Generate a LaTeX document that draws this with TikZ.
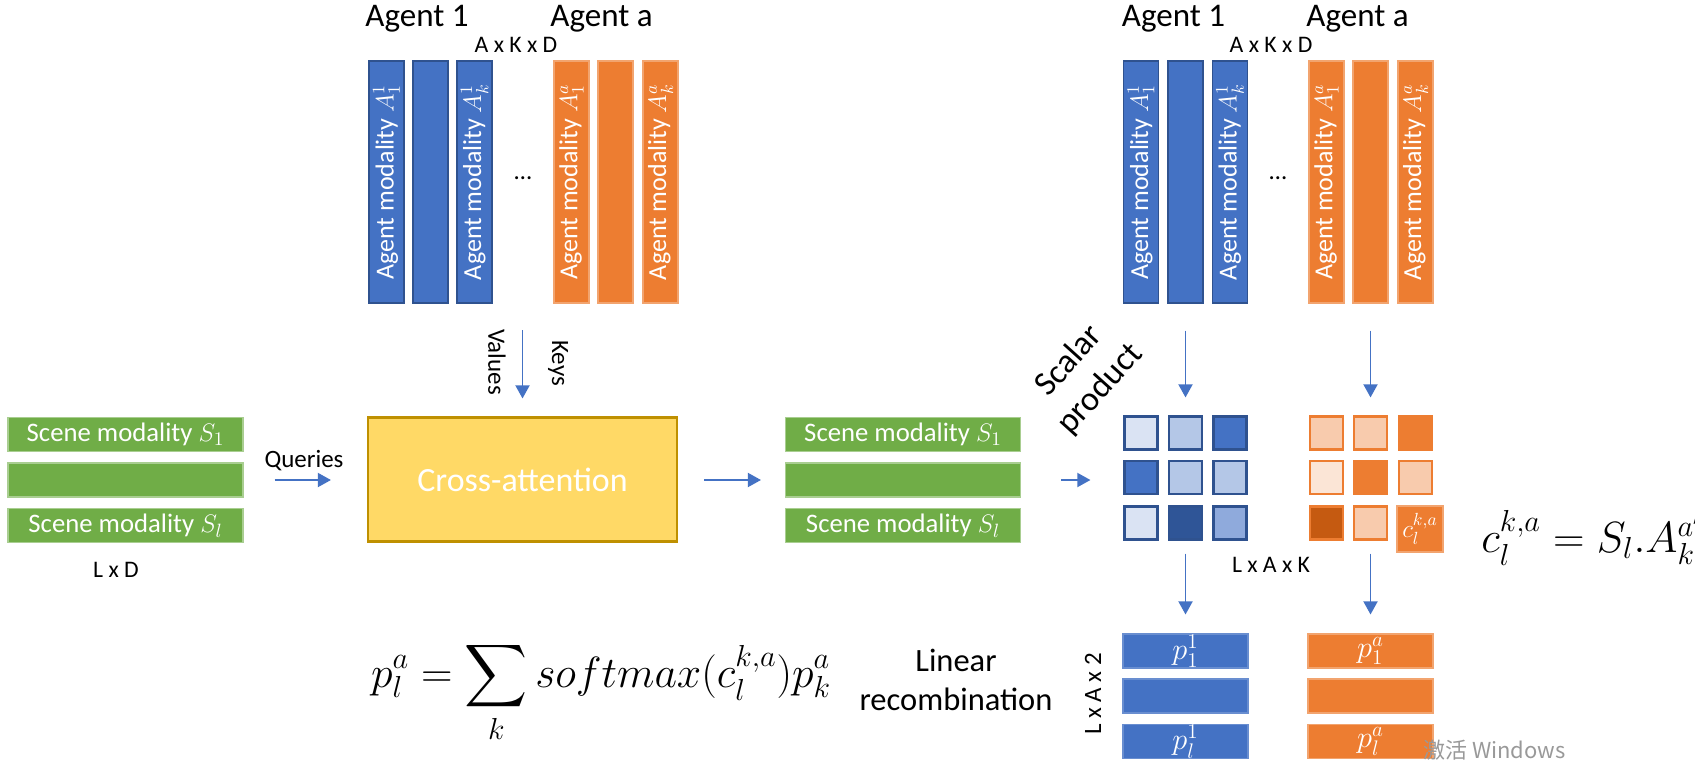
\documentclass[tikz,border=0pt]{standalone}
\usepackage{exscale}
\usepackage{fontspec}
\setmainfont{Carlito}
\newfontfamily\cjk{Noto Sans CJK SC}
\usetikzlibrary{arrows.meta}

\definecolor{myBlue}{HTML}{4472C4}
\definecolor{myBlueLine}{HTML}{2F528F}
\definecolor{myBlueDark}{HTML}{2F5597}
\definecolor{myBlueMed}{HTML}{8FAADC}
\definecolor{myBlueMid}{HTML}{B4C7E7}
\definecolor{myBlueLight}{HTML}{DAE3F3}
\definecolor{myOrange}{HTML}{ED7D31}
\definecolor{myOrangeDark}{HTML}{C55A11}
\definecolor{myOrangeLight}{HTML}{F8CBAD}
\definecolor{myOrangeVLight}{HTML}{FBE5D6}
\definecolor{myGreen}{HTML}{70AD47}
\definecolor{myYellow}{HTML}{FFD966}
\definecolor{myGold}{HTML}{BF9000}

\tikzstyle{agentBlue} = [draw=myBlueLine, fill=myBlue, line width=0.6pt,
    rectangle, inner sep=0pt, minimum width=4.84cm, minimum height=0.70cm,
    rotate=90, text=white, font=\fontsize{14.8}{17}\selectfont]
\tikzstyle{agentOrange} = [draw=myOrange!70!white, fill=myOrange, line width=0.6pt,
    rectangle, inner sep=0pt, minimum width=4.84cm, minimum height=0.70cm,
    rotate=90, text=white, font=\fontsize{14.8}{17}\selectfont]
\tikzstyle{sceneBar} = [draw=myGreen!60!white, fill=myGreen, line width=0.6pt,
    rectangle, inner sep=0pt, minimum width=4.70cm, minimum height=0.68cm,
    text=white, font=\fontsize{15.2}{17}\selectfont]
\tikzstyle{crossBox} = [draw=myGold, fill=myYellow, line width=1.2pt,
    rectangle, inner sep=0pt, minimum width=6.18cm, minimum height=2.48cm,
    text=white, font=\fontsize{19.3}{23}\selectfont]
\tikzstyle{cellBlue} = [draw=myBlueLine, line width=1.2pt,
    rectangle, inner sep=0pt, minimum size=0.66cm]
\tikzstyle{cellOrange} = [draw=myOrange, line width=1.2pt,
    rectangle, inner sep=0pt, minimum size=0.66cm]
\tikzstyle{cellBig} = [draw=myOrange!70!white, fill=myOrange, line width=0.6pt,
    rectangle, inner sep=0pt, minimum size=0.92cm,
    text=white, font=\fontsize{14.5}{16}\selectfont]
\tikzstyle{pBlue} = [draw=myBlue!80!white, fill=myBlue, line width=0.6pt,
    rectangle, inner sep=0pt, minimum width=2.50cm, minimum height=0.68cm,
    text=white, font=\fontsize{17}{20}\selectfont]
\tikzstyle{pOrange} = [draw=myOrange!70!white, fill=myOrange, line width=0.6pt,
    rectangle, inner sep=0pt, minimum width=2.50cm, minimum height=0.68cm,
    text=white, font=\fontsize{17}{20}\selectfont]
\tikzstyle{titleText} = [inner sep=0pt, font=\fontsize{18.8}{22}\selectfont]
\tikzstyle{dimText} = [inner sep=0pt, font=\fontsize{13.5}{16}\selectfont]
\tikzstyle{labelText} = [inner sep=0pt, font=\fontsize{14.2}{17}\selectfont]
\tikzstyle{bigText} = [inner sep=0pt, align=center, font=\fontsize{19.5}{24}\selectfont]
\tikzstyle{recombText} = [inner sep=0pt, align=center, font=\fontsize{18.5}{22.2}\selectfont]
\tikzstyle{formulaText} = [inner sep=0pt, font=\fontsize{23}{27}\selectfont]
\tikzstyle{markText} = [inner sep=0pt, text=black!40, font=\fontsize{12.5}{15}\selectfont]
\tikzstyle{myArrow} = [draw=myBlue, line width=1.1pt,
    -{Triangle[length=7.5pt, width=8pt]}]

\begin{document}
\begin{tikzpicture}

\useasboundingbox[fill=white] (0,0) rectangle (33.9,-15.36);

% keys and values
\node[titleText, anchor=base] (AgentOneL) at (8.34,-0.54) {Agent 1};
\node[titleText, anchor=base] (AgentAL) at (12.03,-0.54) {Agent a};
\node[dimText, anchor=base] (DimAKDL) at (10.32,-1.06) {A x K x D};
  \node[agentBlue] (BarL1) at (7.73,-3.64) {Agent modality $A_1^1$};
  \node[agentBlue] (BarL2) at (8.61,-3.64) {};
  \node[agentBlue] (BarL3) at (9.49,-3.64) {Agent modality $A_k^1$};
  \node[labelText] (DotsL) at (10.46,-3.56) {…};
  \node[agentOrange] (BarL4) at (11.43,-3.64) {Agent modality $A_1^a$};
  \node[agentOrange] (BarL5) at (12.31,-3.64) {};
  \node[agentOrange] (BarL6) at (13.21,-3.64) {Agent modality $A_k^a$};

% queries
\node[sceneBar] (SceneL1) at (2.51,-8.69) {Scene modality $S_1$};
\node[sceneBar] (SceneL2) at (2.51,-9.60) {};
\node[sceneBar] (SceneL3) at (2.51,-10.51) {Scene modality $S_l$};
\node[dimText] (DimLD) at (2.32,-11.40) {L x D};
\node[labelText, anchor=base] (Queries) at (6.08,-9.34) {Queries};
\node[labelText, rotate=-90] (Values) at (9.94,-7.24) {Values};
\node[labelText, rotate=-90] (Keys) at (11.16,-7.26) {Keys};
\coordinate (KeysTop) at (10.45,-6.60);

\node[crossBox] (CrossAtt) at (10.45,-9.59) {Cross-attention};

\node[sceneBar] (SceneR1) at (18.06,-8.69) {Scene modality $S_1$};
\node[sceneBar] (SceneR2) at (18.06,-9.60) {};
\node[sceneBar] (SceneR3) at (18.06,-10.51) {Scene modality $S_l$};

% agent modalities again
\node[titleText, anchor=base] (AgentOneR) at (23.47,-0.54) {Agent 1};
\node[titleText, anchor=base] (AgentAR) at (27.15,-0.54) {Agent a};
\node[dimText, anchor=base] (DimAKDR) at (25.42,-1.06) {A x K x D};
  \node[agentBlue] (BarR1) at (22.82,-3.64) {Agent modality $A_1^1$};
  \node[agentBlue] (BarR2) at (23.71,-3.64) {};
  \node[agentBlue] (BarR3) at (24.60,-3.64) {Agent modality $A_k^1$};
  \node[labelText] (DotsR) at (25.56,-3.56) {…};
  \node[agentOrange] (BarR4) at (26.53,-3.64) {Agent modality $A_1^a$};
  \node[agentOrange] (BarR5) at (27.41,-3.64) {};
  \node[agentOrange] (BarR6) at (28.31,-3.64) {Agent modality $A_k^a$};

\node[bigText, rotate=48] (Scalar) at (21.70,-7.50) {Scalar\\product};

% scores
\node[cellBlue, fill=myBlueLight] (CellB11) at (22.82,-8.66) {};
\node[cellBlue, fill=myBlueMid] (CellB12) at (23.71,-8.66) {};
\node[cellBlue, fill=myBlue] (CellB13) at (24.60,-8.66) {};
\node[cellBlue, fill=myBlue] (CellB21) at (22.82,-9.55) {};
\node[cellBlue, fill=myBlueMid] (CellB22) at (23.71,-9.55) {};
\node[cellBlue, fill=myBlueMid] (CellB23) at (24.60,-9.55) {};
\node[cellBlue, fill=myBlueLight] (CellB31) at (22.82,-10.46) {};
\node[cellBlue, fill=myBlueDark] (CellB32) at (23.71,-10.46) {};
\node[cellBlue, fill=myBlueMed] (CellB33) at (24.60,-10.46) {};
\node[cellOrange, fill=myOrangeLight] (CellO11) at (26.53,-8.66) {};
\node[cellOrange, fill=myOrangeLight] (CellO12) at (27.41,-8.66) {};
\node[cellOrange, fill=myOrange] (CellO13) at (28.31,-8.66) {};
\node[cellOrange, fill=myOrangeVLight] (CellO21) at (26.53,-9.55) {};
\node[cellOrange, fill=myOrange] (CellO22) at (27.41,-9.55) {};
\node[cellOrange, fill=myOrangeLight] (CellO23) at (28.31,-9.55) {};
\node[cellOrange, fill=myOrangeDark] (CellO31) at (26.53,-10.46) {};
\node[cellOrange, fill=myOrangeLight] (CellO32) at (27.41,-10.46) {};
\node[cellBig] (CellO33) at (28.40,-10.58) {$c_l^{k,a}$};
\node[dimText] (DimLAK) at (25.42,-11.30) {L x A x K};
\node[formulaText, anchor=base west] (FormC) at (29.62,-11.04) {$c_l^{k,a} = S_l.A_k^{a'}$};

% recombination
\node[pBlue] (PB1) at (23.71,-13.02) {$p_1^1$};
\node[pBlue] (PB2) at (23.71,-13.92) {};
\node[pBlue] (PB3) at (23.71,-14.83) {$p_l^1$};
\node[pOrange] (PO1) at (27.41,-13.02) {$p_1^a$};
\node[pOrange] (PO2) at (27.41,-13.92) {};
\node[pOrange] (PO3) at (27.41,-14.83) {$p_l^a$};
\node[labelText, rotate=90] (DimLA2) at (21.86,-13.88) {L x A x 2};
\node[recombText] (Recomb) at (19.12,-13.60) {Linear\\recombination};
\node[formulaText, font=\fontsize{23.5}{28}\selectfont, anchor=base] (FormP) at (12.02,-13.74) {$\displaystyle p_l^a = \sum_k softmax(c_l^{k,a}) p_k^a$};
\node[markText, anchor=base west] (Watermark) at (28.46,-15.16) {\cjk 激活 Windows};

\draw[myArrow, shorten >=0.36cm] (KeysTop) -- (CrossAtt);
\draw[myArrow, shorten <=0.62cm, shorten >=0.72cm] (SceneL2.east) -- (SceneL2.east -| CrossAtt.west);
\draw[myArrow, shorten <=0.52cm, shorten >=0.48cm] (CrossAtt.east |- SceneR2.west) -- (SceneR2.west);
\draw[myArrow, shorten <=0.80cm, shorten >=0.66cm] (SceneR2.east) -- (SceneR2.east -| CellB21.west);
\draw[myArrow, shorten <=0.54cm, shorten >=0.36cm] (BarR2) -- (CellB12);
\draw[myArrow, shorten <=0.54cm, shorten >=0.36cm] (BarR5) -- (CellO12);
\draw[myArrow, shorten <=0.26cm, shorten >=0.38cm] (CellB32) -- (PB1);
\draw[myArrow, shorten <=0.26cm, shorten >=0.38cm] (CellO32) -- (PO1);
\end{tikzpicture}
\end{document}
